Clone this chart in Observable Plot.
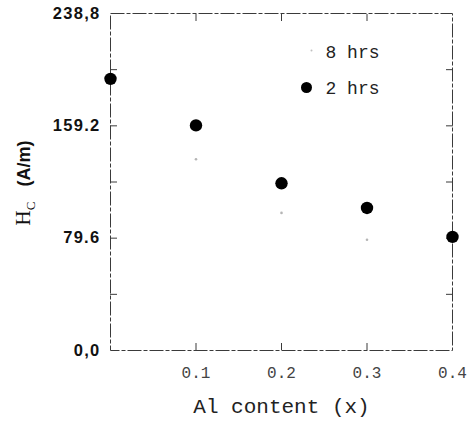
<!DOCTYPE html>
<html>
<head>
<meta charset="utf-8">
<script src="https://cdn.jsdelivr.net/npm/d3@7"></script>
<script src="https://cdn.jsdelivr.net/npm/@observablehq/plot@0.6"></script>
<style>
  html, body { margin: 0; padding: 0; background: #fff; }
  #chart svg { display: block; }
</style>
</head>
<body>
<div id="chart"></div>
<script>
// Data
const alContent = [0, 0.1, 0.2, 0.3, 0.4];
const hc2hrs = [192.5, 159.5, 118.5, 101, 80.5];
const alContent8 = [0.1, 0.2, 0.3];
const hc8hrs = [135.5, 97.5, 78.5];
const yTickValues = [0, 79.6, 159.2, 238.8];
const yTickLabels = ["0,0", "79.6", "159.2", "238,8"];
const yMinorTicks = [39.8, 79.6, 119.4, 159.2, 199.0];
const xTickValues = [0.1, 0.2, 0.3, 0.4];
const xTickLabels = ["0.1", "0.2", "0.3", "0.4"];
const xInnerTicks = [0.1, 0.2, 0.3];
const legendLabels = ["8 hrs", "2 hrs"];

const pts2 = alContent.map((x, i) => ({x, y: hc2hrs[i]}));
const pts8 = alContent8.map((x, i) => ({x, y: hc8hrs[i]}));

const frameStroke = "#3a3a3a";
const dash = "14,2,4,2";
const mono = "Liberation Mono, Courier New, monospace";

const plot = Plot.plot({
  width: 469,
  height: 421,
  marginLeft: 110,
  marginRight: 17,
  marginTop: 13,
  marginBottom: 71,
  style: {background: "#fff", color: "#111"},
  x: {domain: [0, 0.4], label: null},
  y: {domain: [0, 238.8], label: null},
  marks: [
    Plot.frame({stroke: frameStroke, strokeWidth: 1, strokeDasharray: dash}),
    // inward ticks on all four sides
    Plot.axisX(xInnerTicks, {anchor: "bottom", label: null, tickSize: -7, tickFormat: () => "", stroke: frameStroke}),
    Plot.axisX(xInnerTicks, {anchor: "top", label: null, tickSize: -7, tickFormat: () => "", stroke: frameStroke}),
    Plot.axisY(yMinorTicks, {anchor: "left", label: null, tickSize: -7, tickFormat: () => "", stroke: frameStroke}),
    Plot.axisY(yMinorTicks, {anchor: "right", label: null, tickSize: -7, tickFormat: () => "", stroke: frameStroke}),
    // tick labels
    Plot.axisY(yTickValues, {
      anchor: "left", tickSize: 0, tickPadding: 10, label: null,
      tickFormat: (d) => yTickLabels[yTickValues.indexOf(d)],
      fontSize: 16.5, fontWeight: "bold", fontFamily: "Liberation Sans, Arial, sans-serif", fill: "#111"
    }),
    Plot.axisX(xTickValues, {
      anchor: "bottom", tickSize: 0, tickPadding: 16, label: null,
      tickFormat: (d) => xTickLabels[xTickValues.indexOf(d)],
      fontSize: 16, fontFamily: mono, fill: "#444"
    }),
    // data
    Plot.dot(pts8, {x: "x", y: "y", r: 1.3, fill: "#b5b5b5", stroke: "none"}),
    Plot.dot(pts2, {x: "x", y: "y", r: 6.2, fill: "#000", stroke: "none"}),
    // legend
    Plot.dot([legendLabels[0]], {frameAnchor: "top-left", dx: 201, dy: 37, r: 1, fill: "#c0c0c0"}),
    Plot.dot([legendLabels[1]], {frameAnchor: "top-left", dx: 196, dy: 74, r: 5.5, fill: "#000"}),
    Plot.text([legendLabels[0]], {text: (d) => d, frameAnchor: "top-left", dx: 215, dy: 39, textAnchor: "start",
      lineAnchor: "middle", fontSize: 18, fontFamily: mono, fill: "#222"}),
    Plot.text([legendLabels[1]], {text: (d) => d, frameAnchor: "top-left", dx: 215, dy: 75, textAnchor: "start",
      lineAnchor: "middle", fontSize: 18, fontFamily: mono, fill: "#222"}),
    // x axis title
    Plot.text(["Al content (x)"], {text: (d) => d, frameAnchor: "bottom", dx: 0, dy: 56, lineAnchor: "middle",
      fontSize: 21, fontFamily: mono, fill: "#222"})
  ]
});

document.getElementById("chart").appendChild(plot);

const svg = d3.select(plot);
// wider spacing on the y tick labels, as in the scanned original
svg.selectAll("text")
  .filter(function () { return yTickLabels.includes(this.textContent); })
  .attr("letter-spacing", "1.3px");

// y axis title: H_C (A/m), rotated
const t = svg.append("text")
  .attr("transform", "translate(30,183) rotate(-90)")
  .attr("text-anchor", "middle")
  .attr("fill", "#111");
t.append("tspan").attr("font-family", "Liberation Serif, Times New Roman, serif").attr("font-size", 21).text("H");
t.append("tspan").attr("font-family", "Liberation Serif, Times New Roman, serif").attr("font-size", 13).attr("dy", 5).text("C");
t.append("tspan").attr("font-family", "Liberation Sans, Arial, sans-serif").attr("font-weight", "bold").attr("font-size", 18).attr("dy", -5).attr("dx", 15).text("(A/m)");
</script>
</body>
</html>
